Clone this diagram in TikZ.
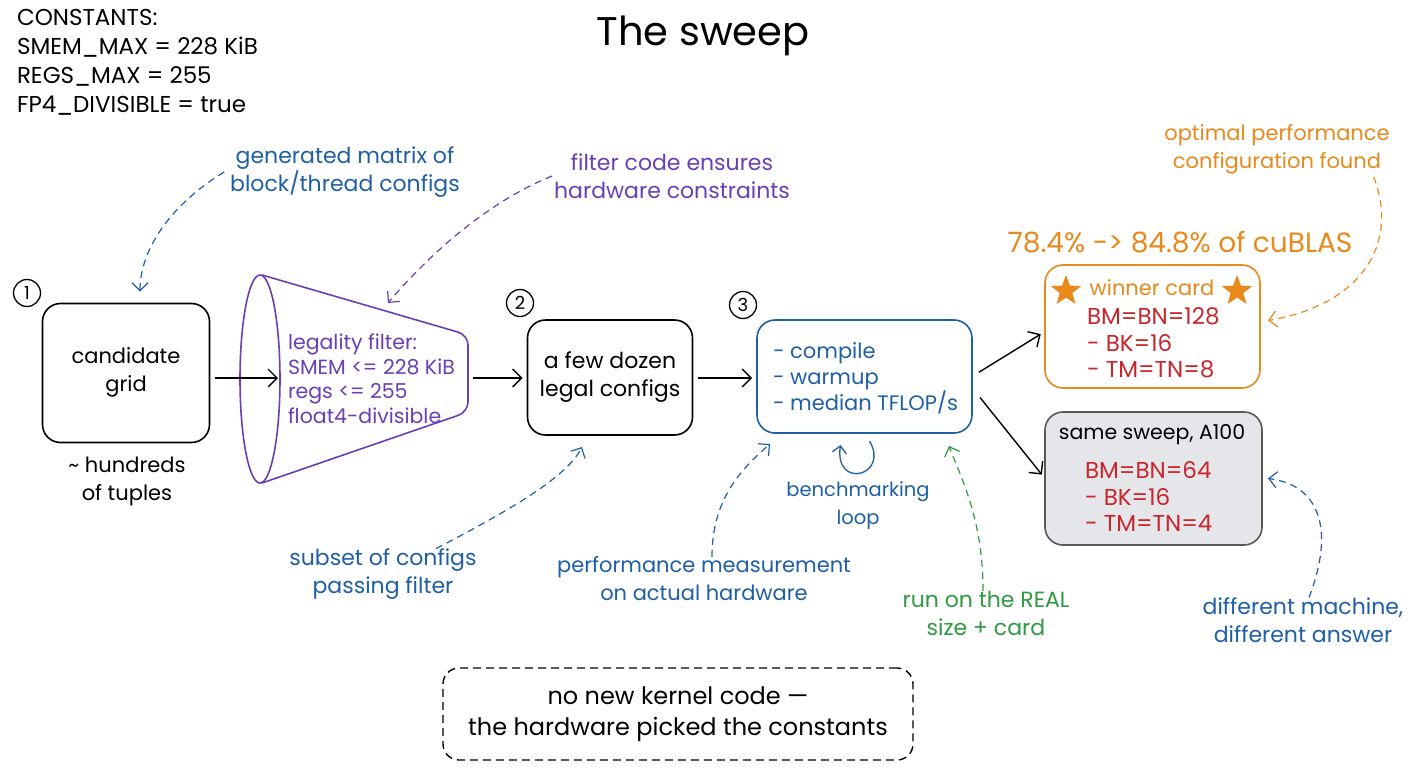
\documentclass[tikz,border=0pt]{standalone}
\usepackage{fontspec}
\setmainfont{Poppins}
\usetikzlibrary{arrows.meta,shapes.geometric}
\definecolor{cblue}{HTML}{1F5FA5}
\definecolor{cpurple}{HTML}{6B3FB3}
\definecolor{corange}{HTML}{E8891C}
\definecolor{cred}{HTML}{C9252C}
\definecolor{cgreen}{HTML}{2F9A42}
\definecolor{cgray}{HTML}{E4E6EA}
\begin{document}
\begin{tikzpicture}[x=1pt,y=-1pt,
  every node/.style={inner sep=0pt, outer sep=0pt},
  txt/.style={font=\fontsize{21}{28}\selectfont, align=center},
  ann/.style={font=\fontsize{22}{28}\selectfont, align=center},
  redtxt/.style={font=\fontsize{23}{26}\selectfont, text=cred, anchor=west},
  box/.style={draw, rounded corners=18pt, line width=1.6pt},
  arr/.style={-{Straight Barb[length=9pt,width=18pt,line width=1.4pt]}, line width=1.4pt},
  dasharr/.style={-{Straight Barb[length=8pt,width=16pt,line width=1.2pt]}, line width=1.2pt, dash pattern=on 7pt off 5pt},
  num/.style={circle, draw, line width=1.3pt, minimum size=27pt, font=\fontsize{18}{18}\selectfont},
  starnode/.style={star, star points=5, star point ratio=2.4, fill=corange, minimum size=32pt}
]
\fill[white] (0,0) rectangle (1408,768);
\useasboundingbox (0,0) rectangle (1408,768);

% title and constants
\node[font=\fontsize{40}{42}\selectfont] (title) at (703,36) {The sweep};
\node[anchor=north west, align=left, font=\fontsize{23}{29}\selectfont] (consts) at (17,9)
  {CONSTANTS:\\SMEM\_MAX = 228 KiB\\REGS\_MAX = 255\\FP4\_DIVISIBLE = true};

% main boxes
\node[box, minimum width=167pt, minimum height=139pt] (grid) at (126,373) {};
\node[txt] (gridtxt) at (126,372) {candidate\\grid};
\node[txt] (tuples) at (127,481) {\textasciitilde{} hundreds\\of tuples};
\node[num] (n1) at (27,293) {1};

% funnel
\draw[cpurple, line width=1.6pt] (260,379) ellipse [x radius=20, y radius=104];
\draw[cpurple, line width=1.6pt, rounded corners=10pt] (262,275) -- (468,335) -- (468,412) -- (262,483);
\node[minimum width=208pt, minimum height=208pt] (funnel) at (364,379) {};
\coordinate (funin) at (278,378);
\coordinate (funout) at (468,378);
\node[anchor=west, align=left, text=cpurple, font=\fontsize{20.5}{24.5}\selectfont] (ftext) at (288,379)
  {legality filter:\\SMEM <= 228 KiB\\regs <= 255\\float4-divisible};

\node[box, minimum width=165pt, minimum height=115pt] (legal) at (610,377.5) {};
\node[txt, font=\fontsize{22}{28}\selectfont] (legaltxt) at (610,377) {a few dozen\\legal configs};
\node[num] (n2) at (520,303) {2};

\node[box, draw=cblue, minimum width=215pt, minimum height=113pt] (bench) at (864.5,376.5) {};
\node[anchor=west, align=left, text=cblue, font=\fontsize{21}{26}\selectfont] (benchtxt) at (773,378)
  {- compile\\- warmup\\- median TFLOP/s};
\node[num] (n3) at (743,305) {3};
\node[txt, text=cblue, font=\fontsize{19.5}{28}\selectfont] (looplbl) at (858,506) {benchmarking\\loop};

% result cards
\node[font=\fontsize{28}{30}\selectfont, text=corange] (pct) at (1180,242) {78.4\% -> 84.8\% of cuBLAS};
\node[box, draw=corange, minimum width=215pt, minimum height=123pt] (winner) at (1152.5,326.5) {};
\node[starnode] (s1) at (1066,291) {};
\node[starnode] (s2) at (1237,291) {};
\node[txt, text=corange] (wtitle) at (1152,288) {winner card};
\node[redtxt] (w1) at (1087,316) {BM=BN=128};
\node[redtxt] (w2) at (1087,343) {- BK=16};
\node[redtxt] (w3) at (1087,369) {- TM=TN=8};

\node[box, draw=black!65, fill=cgray, minimum width=217pt, minimum height=133pt] (a100) at (1153.5,478.5) {};
\node[txt, font=\fontsize{20.5}{28}\selectfont] (atitle) at (1152,435) {same sweep, A100};
\node[redtxt] (a1) at (1085,470) {BM=BN=64};
\node[redtxt] (a2) at (1085,497) {- BK=16};
\node[redtxt] (a3) at (1085,523) {- TM=TN=4};

% annotations
\node[ann, text=cblue] (gen) at (345,172) {generated matrix of\\block/thread configs};
\node[ann, text=cpurple] (filt) at (672,176) {filter code ensures\\hardware constraints};
\node[txt, text=corange] (opt) at (1277,149) {optimal performance\\configuration found};
\node[ann, text=cblue] (subset) at (383,574) {subset of configs\\passing filter};
\node[txt, text=cblue] (perf) at (704,579) {performance measurement\\on actual hardware};
\node[ann, text=cgreen] (run) at (986,613) {run on the REAL\\size + card};
\node[ann, text=cblue] (diff) at (1303,620) {different machine,\\different answer};

% note
\node[draw, dash pattern=on 8pt off 5pt, line width=1.4pt, rounded corners=16pt,
  minimum width=470pt, minimum height=92pt, align=center, font=\fontsize{24}{31}\selectfont] (note) at (678,714)
  {no new kernel code —\\the hardware picked the constants};

% flow arrows
\draw[arr, shorten <=5pt] (grid.east |- funin) -- (funin);
\draw[arr, shorten <=5pt, shorten >=5pt] (funout) -- (legal.west |- funout);
\draw[arr, shorten <=5pt, shorten >=5pt] (legal.east |- funout) -- (bench.west |- funout);
\draw[arr, shorten <=8pt, shorten >=5pt] (bench.east) -- ([yshift=-5pt]winner.west);
\draw[arr, shorten >=5pt] ([shift={(8,21)}]bench.east) -- (a100.west);
\draw[cblue, line width=1.3pt, -{Straight Barb[length=7pt,width=14pt,line width=1.3pt]}]
  ([shift={(5,8)}]bench.south) .. controls (890,476) and (834,490) .. ([shift={(-24,12)}]bench.south);

% annotation arrows
\draw[dasharr, cblue] ([xshift=-6pt]gen.west) .. controls (170,205) and (140,250) .. ([shift={(14,-12)}]grid.north);
\draw[dasharr, cpurple] ([xshift=-2pt]filt.west) .. controls (480,205) and (420,265) .. ([shift={(24,-76)}]funnel.center);
\draw[dasharr, corange] ([shift={(-16,3)}]opt.south east) .. controls (1400,245) and (1360,305) .. ([shift={(8,-6)}]winner.east);
\draw[dasharr, cblue] ([xshift=53pt]subset.north) .. controls (500,515) and (565,480) .. ([shift={(-28,12)}]legal.south);
\draw[dasharr, cblue] ([xshift=8pt]perf.north) .. controls (712,500) and (740,470) .. ([shift={(13,11)}]bench.south west);
\draw[dasharr, cgreen] ([xshift=-3pt]run.north) .. controls (983,520) and (962,480) .. ([shift={(-23,13)}]bench.south east);
\draw[dasharr, cblue] ([xshift=6pt]diff.north) .. controls (1335,530) and (1320,485) .. ([xshift=6pt]a100.east);
\end{tikzpicture}
\end{document}
